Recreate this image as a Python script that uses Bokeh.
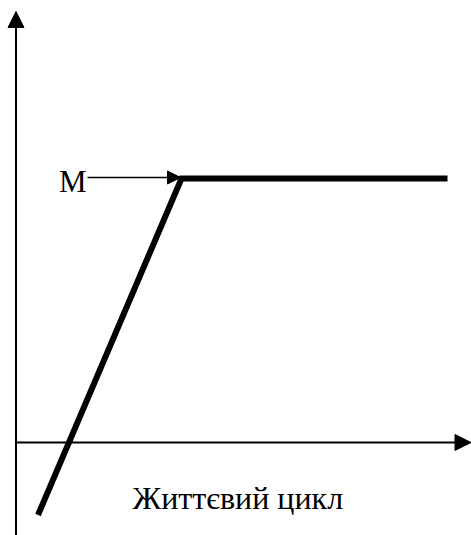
from bokeh.plotting import figure
from bokeh.models import Range1d, Arrow, NormalHead, ColumnDataSource
from bokeh.core.properties import value
from bokeh.embed import file_html
from bokeh.resources import INLINE

# Life-cycle curve (diagram units, origin at axes intersection)
curve_x = [22, 165.5, 431.5]
curve_y = [-72.5, 264, 264]

# Axes extents
x_axis_end = 455
y_axis_bottom = -93
y_axis_top = 431

# Marker "M" pointing at saturation level
m_label = "M"
m_arrow_start_x = 71.5
m_arrow_end_x = 164.5
m_level = 265

x_label = "Життєвий цикл"

p = figure(width=471, height=535, output_backend="svg", toolbar_location=None,
           x_range=Range1d(-15.5, 455.5), y_range=Range1d(-93, 442),
           min_border=0, outline_line_color=None)
p.axis.visible = False
p.grid.visible = False
p.background_fill_color = "white"
p.border_fill_color = "white"

# vertical axis
p.add_layout(Arrow(x_start=0, y_start=y_axis_bottom, x_end=0, y_end=y_axis_top,
                   line_width=2, line_color="black",
                   end=NormalHead(size=16, fill_color="black", line_color="black", line_width=1)))
# horizontal axis
p.add_layout(Arrow(x_start=0, y_start=0, x_end=x_axis_end, y_end=0,
                   line_width=2, line_color="black",
                   end=NormalHead(size=16, fill_color="black", line_color="black", line_width=1)))

# curve
p.line(curve_x, curve_y, line_width=6, line_color="black", line_join="miter")

# M arrow
p.add_layout(Arrow(x_start=m_arrow_start_x, y_start=m_level, x_end=m_arrow_end_x, y_end=m_level,
                   line_width=1.5, line_color="black",
                   end=NormalHead(size=13, fill_color="black", line_color="black", line_width=1)))

src = ColumnDataSource(dict(x=[m_arrow_start_x - 1], y=[m_level - 4], t=[m_label]))
p.text(x="x", y="y", text="t", source=src, text_font=value("Liberation Serif"),
       text_font_size="31px", text_align="right", text_baseline="alphabetic", text_color="black")

src2 = ColumnDataSource(dict(x=[116.5], y=[-55], t=[x_label]))
p.text(x="x", y="y", text="t", source=src2, text_font=value("Liberation Serif"),
       text_font_size="32px", text_align="left", text_baseline="alphabetic", text_color="black")

open("out.html", "w").write(file_html(p, INLINE))
